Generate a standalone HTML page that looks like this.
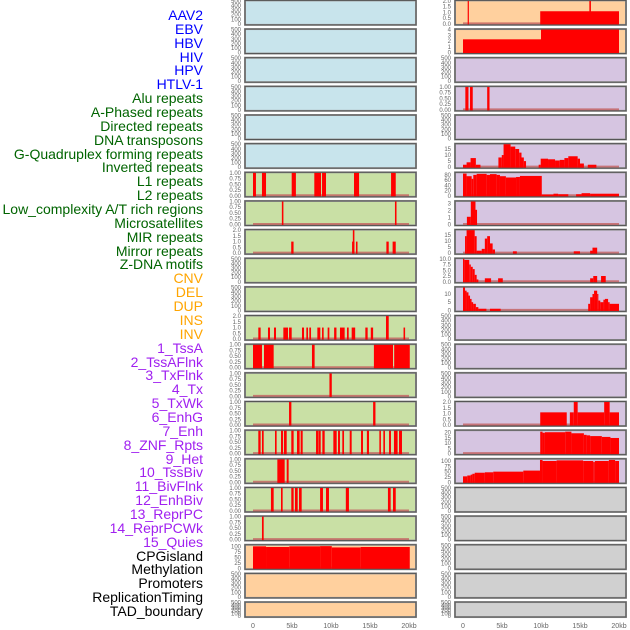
<!DOCTYPE html>
<html><head><meta charset="utf-8">
<style>
html,body{margin:0;padding:0;background:#fff;}
#wrap{position:relative;width:630px;height:630px;overflow:hidden;font-family:"Liberation Sans",sans-serif;}
.lab{position:absolute;right:427px;font-size:14px;line-height:14px;white-space:nowrap;}
svg{position:absolute;left:0;top:0;}
</style></head>
<body>
<div id="wrap">
<div id="labels"></div>
<svg id="chart" width="630" height="630"></svg>
</div>
<script>
// ---- data ----
const trackLabels = ["AAV2","EBV","HBV","HIV","HPV","HTLV-1","Alu repeats","A-Phased repeats","Directed repeats","DNA transposons","G-Quadruplex forming repeats","Inverted repeats","L1 repeats","L2 repeats","Low_complexity A/T rich regions","Microsatellites","MIR repeats","Mirror repeats","Z-DNA motifs","CNV","DEL","DUP","INS","INV","1_TssA","2_TssAFlnk","3_TxFlnk","4_Tx","5_TxWk","6_EnhG","7_Enh","8_ZNF_Rpts","9_Het","10_TssBiv","11_BivFlnk","12_EnhBiv","13_ReprPC","14_ReprPCWk","15_Quies","CPGisland","Methylation","Promoters","ReplicationTiming","TAD_boundary"];
const labelGroups = [6,13,5,15,5];
const xTickValues = [0,5,10,15,20];
const xTickLabels = ["0","5kb","10kb","15kb","20kb"];
const T500=[0,100,200,300,400,500], T1=[0,0.25,0.5,0.75,1], T2=[0,0.5,1,1.5,2];
// left column segments [startKb,endKb,value]
const c1r6=[[0,0.38,1],[1.15,1.67,1],[4.96,5.5,1],[7.86,8.72,1],[8.85,9.36,1],[12.95,13.6,1],[17.7,18.3,1]];
const c1r7=[[3.7,3.9,1],[18.2,18.4,1]];
const c1r8=[[4.9,5.2,1],[12.7,13.0,1],[12.8,13.0,2],[13.2,13.4,1],[17.1,17.4,1],[17.9,18.3,1]];
const c1r11=[[0.68,0.98,1],[1.92,2.18,1],[2.69,2.95,1],[3.89,4.49,1],[4.62,4.96,1],[6.28,6.54,1],[6.84,7.05,1],[7.22,7.44,1],[8.25,8.63,1],[8.85,9.06,1],[9.57,9.79,1],[10.4,10.7,1],[11.15,11.75,1],[12.05,12.27,1],[12.65,13.1,1],[14.4,14.7,1],[15.1,15.4,1],[17.05,17.4,2],[19.3,19.5,1]];
const c1r12=[[0,1.15,1],[1.41,2.65,1],[7.56,7.9,1],[15.5,17.95,1],[18.1,20.1,1]];
const c1r13=[[9.8,10.1,1]];
const c1r14=[[4.62,4.92,1],[15.4,15.7,1]];
const c1r15=[[0.68,0.98,1],[1.15,1.37,1],[2.82,3.03,1],[3.59,3.85,1],[3.97,4.32,1],[4.91,5.21,1],[5.64,5.98,1],[6.11,6.37,1],[8.08,8.42,1],[8.46,8.68,1],[8.89,9.19,1],[10.3,10.73,1],[10.9,11.15,1],[11.45,11.67,1],[12.4,12.65,1],[13.85,14.1,1],[14.6,14.87,1],[16.2,16.4,1],[16.71,16.92,1],[17.44,17.69,1],[18.07,18.54,1],[18.72,19.1,1]];
const c1r16=[[3.12,4.06,1],[4.32,4.57,1]];
const c1r17=[[2.3,2.65,1],[3.59,3.8,1],[4.91,5.21,1],[5.38,5.73,1],[5.9,6.24,1],[8.6,8.97,1],[9.36,9.74,1],[11.9,12.3,1],[17.3,17.65,1],[17.95,18.3,1]];
const c1r18=[[1.15,1.37,1]];
const c1r19=[[0,1.67,100],[1.67,4.66,97],[4.66,8.6,100],[8.6,10.1,101],[10.1,13.8,95],[13.8,20.1,97]];
// right column
const c2r0=[[0.6,0.75,2],[9.9,20,1.1],[16.2,16.4,2]];
const c2r1=[[0,10,2.3],[10,20,4]];
const c2r3=[[0.3,0.7,1],[0.9,1.25,1],[3.1,3.4,1]];
const c2r5=[[0,0.46,2],[0.46,0.97,4],[0.97,1.65,7.5],[1.65,2.24,2],[4.54,4.97,8],[4.97,5.2,10],[5.2,6.1,19],[6.1,6.7,17],[6.7,7.2,15],[7.2,7.5,12],[7.5,7.8,8],[7.8,8.08,5],[9.7,9.96,2],[9.96,10.9,7],[10.9,11.8,6.5],[11.8,12.4,5.5],[12.4,13,6],[13,13.5,7.5],[13.5,14.7,9],[14.7,15,7],[15,15.5,3],[16,17.1,2]];
const c2r6=[[0,0.46,85],[0.46,1.11,75],[1.11,1.32,65],[1.32,1.75,80],[1.75,3.03,84],[3.03,3.46,80],[3.46,4.31,83],[4.31,4.74,80],[4.74,5.5,75],[5.5,6.8,70],[6.8,7.3,72],[7.3,10.1,76],[10.1,11.6,5],[11.6,12.2,8],[12.2,13.5,6],[14.5,15.2,6],[15.2,16.3,10],[16.3,20,8]];
const c2r7=[[0.5,1.0,1.1],[1.0,1.6,3.3],[1.6,1.8,2.1]];
const c2r8=[[0.26,0.46,14],[0.46,1.5,19],[1.5,1.75,14],[1.75,2.4,2],[2.4,2.8,3.5],[2.8,3.1,12],[3.1,3.46,14],[3.46,3.8,8],[3.8,4.1,3],[6.4,6.9,1.5],[14.2,15,1.5],[16.3,16.6,2],[16.6,17.2,4.5]];
const c2r9=[[0,0.17,10],[0.17,0.8,9.5],[0.8,1.0,7.5],[1.0,1.25,6.5],[1.25,1.5,5.5],[1.5,1.75,3],[1.75,1.97,1],[2.8,3.6,1.5],[4.5,5.1,1.5],[16.3,16.7,1.5],[16.7,17.2,2.5],[17.7,18.3,2.5]];
const c2r10=[[0,0.26,14],[0.26,0.46,12],[0.46,0.7,11],[0.7,0.9,9],[0.9,1.1,7],[1.1,1.3,5],[1.3,1.65,4],[1.65,1.97,2],[1.97,3.0,1],[3.46,4.83,1],[16.05,16.3,4],[16.3,16.6,8],[16.6,16.8,10],[16.8,17.2,12],[17.2,17.35,10],[17.35,17.6,6],[17.6,18.0,5],[18.0,18.2,6.5],[18.2,18.6,7],[18.6,18.8,5],[18.8,20,4]];
const c2r14=[[9.9,13.3,1.1],[13.7,14.2,1.1],[14.2,14.7,2],[14.7,18.1,1.1],[18.1,18.8,2],[18.8,20,1.1]];
const c2r15=[[9.9,10.2,21],[10.2,10.5,20],[10.5,13.1,20.5],[13.1,13.9,21],[13.9,15.5,19.5],[15.5,15.85,18],[15.85,16.3,17.5],[16.3,17.8,16.8],[17.8,18.9,16],[18.9,20,15]];
const c2r16=[[0,0.55,28],[0.55,0.98,32],[0.98,1.2,36],[1.2,1.5,40],[1.5,2.8,45],[2.8,3.88,47],[3.88,7.73,50],[7.73,9.87,55],[9.87,10.2,105],[10.2,12,100],[12,15.4,103],[15.4,16.7,100],[16.7,16.9,95],[16.9,18.7,100],[18.7,19.5,105],[19.5,20,100]];

const BLUE="#c8e4ec",GREEN="#c9e0a5",ORANGE="#ffd09e",PURPLE="#d6c5e1",GRAY="#d0d0d0";
function P(bg,segs,ymax,ticks){return {bg:bg,segs:segs||null,ymax:ymax||500,ticks:ticks||T500};}
const col1=[];
for(let i=0;i<6;i++) col1.push(P(BLUE));
col1.push(P(GREEN,c1r6,1,T1),P(GREEN,c1r7,1,T1),P(GREEN,c1r8,2,T2),P(GREEN),P(GREEN),
  P(GREEN,c1r11,2,T2),P(GREEN,c1r12,1,T1),P(GREEN,c1r13,1,T1),P(GREEN,c1r14,1,T1),P(GREEN,c1r15,1,T1),
  P(GREEN,c1r16,1,T1),P(GREEN,c1r17,1,T1),P(GREEN,c1r18,1,T1),P(ORANGE,c1r19,105,[0,25,50,75,100]),P(ORANGE),P(ORANGE));
const col2=[P(ORANGE,c2r0,2,T2),P(ORANGE,c2r1,4,[0,1,2,3,4]),P(PURPLE),P(PURPLE,c2r3,1,T1),P(PURPLE),
  P(PURPLE,c2r5,19,[0,5,10,15]),P(PURPLE,c2r6,88,[0,20,40,60,80]),P(PURPLE,c2r7,3.3,[0,1,2,3]),
  P(PURPLE,c2r8,19,[0,5,10,15]),P(PURPLE,c2r9,10,[0,2.5,5,7.5,10]),P(PURPLE,c2r10,14,[0,5,10]),
  P(PURPLE),P(PURPLE),P(PURPLE),P(PURPLE,c2r14,2,T2),P(PURPLE,c2r15,22,[0,5,10,15,20]),
  P(PURPLE,c2r16,108,[0,25,50,75,100]),P(GRAY),P(GRAY),P(GRAY),P(GRAY),P(GRAY)];

// ---- render ----
const NS="http://www.w3.org/2000/svg";
const svg=document.getElementById('chart');
function mk(tag,attrs,parent){const e=document.createElementNS(NS,tag);for(const k in attrs)e.setAttribute(k,attrs[k]);(parent||svg).appendChild(e);return e;}
const colGeom=[{px:245,pw:171,x0:253},{px:455,pw:171,x0:463}];
const KB=7.8;
function xScale(c,kb){return colGeom[c].x0+kb*KB;}
function rowTop(i){return 0.4+i*28.65;}
function rowH(i){return i===21?15:24.5;}
function fmt(v,ticks){
  const dec=ticks.some(t=>Math.round(t*100)%100!==0&&Math.round(t*100)%50!==0)?2:(ticks.some(t=>t%1!==0)||ticks[ticks.length-1]<=2?1:0);
  if(ticks===T1)return v.toFixed(2);
  if(ticks[ticks.length-1]===10&&ticks.includes(2.5))return v.toFixed(1);
  return dec===0?String(v):v.toFixed(dec===2?2:1);
}
[col1,col2].forEach((col,c)=>{
  col.forEach((p,i)=>{
    const g=mk('g',{});
    
    
    const top=rowTop(i),h=rowH(i),G=colGeom[c];
    const bottom=top+h;
    const yS=v=>bottom-1-(v/p.ymax)*(h-1.5);
    const bg=mk('rect',{x:G.px,y:top,width:G.pw,height:h,fill:p.bg,stroke:'#9a9a9a','stroke-width':2},g);
    
    
    if(p.segs){
      const base=mk('line',{x1:xScale(c,0),x2:xScale(c,20),y1:bottom-1.5,y2:bottom-1.5,stroke:'#c46060','stroke-width':2,opacity:0.8},g);
      
      
      p.segs.forEach(s=>{
        const x1=xScale(c,s[0]),x2=xScale(c,s[1]);
        const y=yS(s[2]);
        const r=mk('rect',{x:x1,y:Math.max(top,y),width:Math.max(1.2,x2-x1),height:bottom-Math.max(top,y),fill:'#ff0000'},g);
        
        
      });
    }
    mk('rect',{x:G.px,y:top,width:G.pw,height:h,fill:'none',stroke:'#555','stroke-width':1},g);
    p.ticks.forEach(t=>{
      const tx=mk('text',{x:G.px-4,y:yS(t)+2,'font-size':6,fill:'#666','text-anchor':'end','font-family':'Liberation Sans, sans-serif'},g);
      tx.textContent=fmt(t,p.ticks);
      
      
    });
  });
  xTickValues.forEach((v,k)=>{
    const t=mk('text',{x:xScale(c,v),y:628,'font-size':7,fill:'#666','text-anchor':'middle','font-family':'Liberation Sans, sans-serif'});
    t.textContent=xTickLabels[k];
    
    
  });
});
// labels
const groupColors=["#0000ff","#006400","#ffa500","#a020f0","#000000"];
const labDiv=document.getElementById('labels');
let gi=0,cnt=0;
trackLabels.forEach((l,i)=>{
  while(cnt>=labelGroups[gi]){gi++;cnt=0;}
  cnt++;
  const d=document.createElement('div');
  d.className='lab';
  d.style.top=(15+i*13.86-7)+'px';
  d.style.color=groupColors[gi];
  d.textContent=l;
  
  
  labDiv.appendChild(d);
});
</script>
</body></html>
